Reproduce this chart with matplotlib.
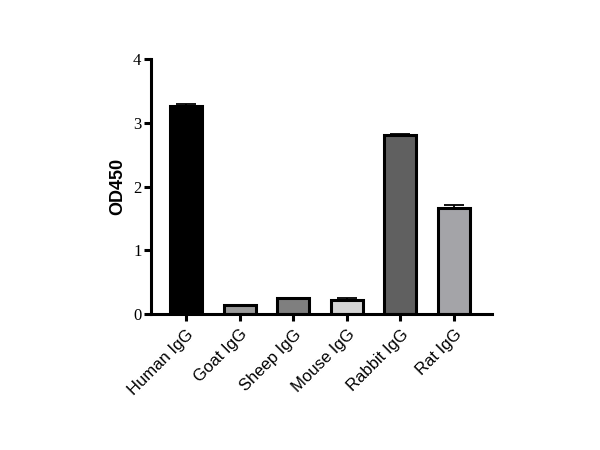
import matplotlib
matplotlib.use('Agg')
import matplotlib.pyplot as plt
import numpy as np

# data
categories = ['Human IgG', 'Goat IgG', 'Sheep IgG', 'Mouse IgG', 'Rabbit IgG', 'Rat IgG']
od450 = [3.27, 0.14, 0.25, 0.22, 2.80, 1.66]
od450_err = [0.02, 0.01, 0.01, 0.04, 0.03, 0.05]
bar_colors = ['#000000', '#9a9a9a', '#7f7f7f', '#d4d4d4', '#606060', '#a4a4a8']

fig = plt.figure(figsize=(6, 4.5), dpi=100)
ax = fig.add_axes([0.252, 0.302, 0.568, 0.567])

x = np.arange(len(categories))
ax.bar(x, od450, width=0.6, color=bar_colors, edgecolor='black', linewidth=2.2, zorder=2)
ax.errorbar(x, od450, yerr=[np.zeros(len(od450)), od450_err], fmt='none',
            ecolor='black', elinewidth=1.3, capsize=7, capthick=1.3, zorder=1)

ax.set_xlim(-0.653, 5.71)
ax.set_ylim(0, 4)
ax.set_yticks([0, 1, 2, 3, 4])
ax.set_yticklabels(['0', '1', '2', '3', '4'], fontfamily='Liberation Serif', fontsize=12)
ax.set_xticks(x)
ax.set_xticklabels(categories, rotation=45, ha='right', rotation_mode='anchor',
                   fontfamily='Liberation Sans', fontsize=12)
ax.set_ylabel('OD450', fontfamily='Liberation Sans', fontweight='bold', fontsize=13, labelpad=5)

for s in ['top', 'right']:
    ax.spines[s].set_visible(False)
for s in ['left', 'bottom']:
    ax.spines[s].set_linewidth(2.2)
ax.tick_params(axis='both', width=2.2, length=5, direction='out', pad=2)
ax.tick_params(axis='x', pad=4)

fig.savefig('out.png', dpi=100)
